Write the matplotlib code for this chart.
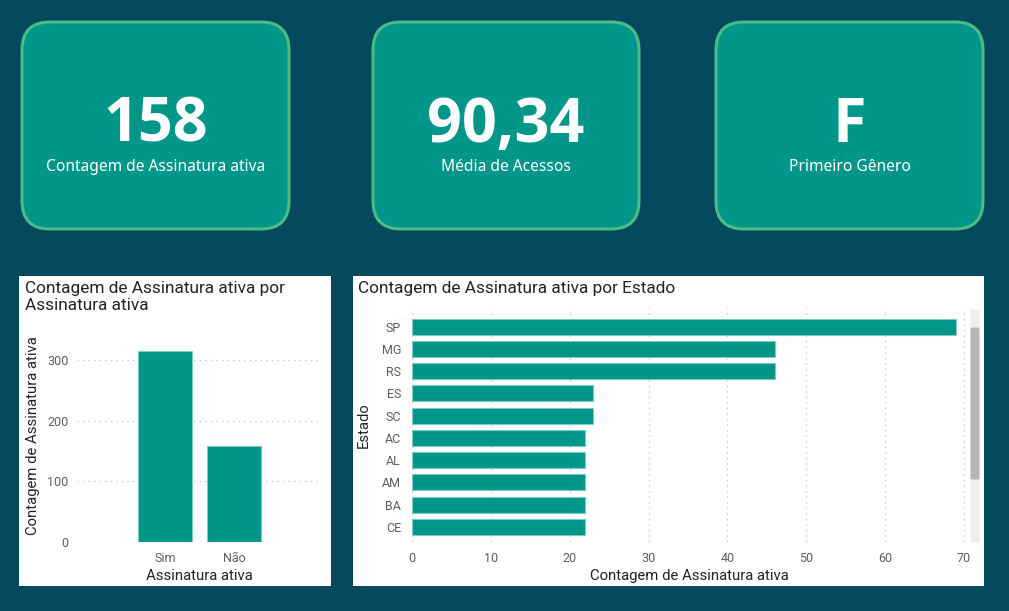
import matplotlib
matplotlib.use("Agg")
import matplotlib.pyplot as plt
from matplotlib.patches import FancyBboxPatch, Rectangle

W, H = 1009, 611
BG = "#05495F"
TEAL = "#00968A"
CARD_EDGE = "#4CBB84"
GRID = "#C8C8C8"
TICK = "#605E5C"
DARK = "#252423"

# ---- data ----
card_values = ["158", "90,34", "F"]
card_labels = ["Contagem de Assinatura ativa", "Média de Acessos", "Primeiro Gênero"]

ativa_cats = ["Sim", "Não"]
ativa_vals = [316, 158]

estados = ["SP", "MG", "RS", "ES", "SC", "AC", "AL", "AM", "BA", "CE"]
estado_vals = [69, 46, 46, 23, 23, 22, 22, 22, 22, 22]

CHART_FONT = ["Roboto", "DejaVu Sans"]
CARD_FONT = ["Noto Sans", "DejaVu Sans"]
NUM_FONT = ["Open Sans", "DejaVu Sans"]

fig = plt.figure(figsize=(W / 100, H / 100), dpi=100)
fig.patch.set_facecolor(BG)

bg = fig.add_axes([0, 0, 1, 1])
bg.set_xlim(0, W)
bg.set_ylim(H, 0)
bg.axis("off")


def px(x0, y0, x1, y1):
    return [x0 / W, 1 - y1 / H, (x1 - x0) / W, (y1 - y0) / H]


# ---- cards ----
card_boxes = [(22, 22, 289, 229), (373, 22, 639, 229), (716, 22, 983, 229)]
for (x0, y0, x1, y1), val, lab in zip(card_boxes, card_values, card_labels):
    r = 28
    p = FancyBboxPatch((x0 + r, y0 + r), (x1 - x0) - 2 * r, (y1 - y0) - 2 * r,
                       boxstyle=f"round,pad={r}", facecolor=TEAL,
                       edgecolor=CARD_EDGE, linewidth=2.2)
    bg.add_patch(p)
    cx = (x0 + x1) / 2
    bg.text(cx, 126, val, ha="center", va="center", color="white",
            fontsize=44, fontweight="bold", family=NUM_FONT)
    bg.text(cx, 167, lab, ha="center", va="center", color="white",
            fontsize=11.2, family=CARD_FONT)

# ---- panels ----
bg.add_patch(Rectangle((19, 276), 312, 310, facecolor="white", edgecolor="none"))
bg.add_patch(Rectangle((353, 276), 631, 310, facecolor="white", edgecolor="none"))

bg.text(25, 288, "Contagem de Assinatura ativa por", ha="left",
        va="center", fontsize=12.4, color=DARK, family=CHART_FONT)
bg.text(25, 306, "Assinatura ativa", ha="left",
        va="center", fontsize=12.4, color=DARK, family=CHART_FONT)
bg.text(358, 288, "Contagem de Assinatura ativa por Estado", ha="left",
        va="center", fontsize=12.4, color=DARK, family=CHART_FONT)

# scrollbar
bg.add_patch(FancyBboxPatch((972, 311), 6, 230, boxstyle="round,pad=1.5",
                            facecolor="#EEEEEE", edgecolor="none"))
bg.add_patch(FancyBboxPatch((972, 329), 6, 149, boxstyle="round,pad=1.5",
                            facecolor="#B5B5B5", edgecolor="none"))

# ---- chart 1: vertical bars ----
ax1 = fig.add_axes(px(77, 330, 322, 542))
ax1.set_facecolor("none")
xs = list(range(len(ativa_cats)))
ax1.bar(xs, ativa_vals, width=0.77, color=TEAL, edgecolor="#7CCBC3",
        linewidth=0.8, zorder=3)
ax1.set_xlim(-1.275, 2.275)
ax1.set_ylim(0, 350)
ax1.set_yticks([0, 100, 200, 300])
ax1.set_xticks(xs)
ax1.set_xticklabels(ativa_cats)
ax1.grid(axis="y", linestyle=(0, (1, 3)), color=GRID, linewidth=1)
for s in ax1.spines.values():
    s.set_visible(False)
ax1.tick_params(length=0, labelsize=9, labelcolor=TICK, pad=6)
ax1.tick_params(axis="x", pad=7)
for t in ax1.get_xticklabels() + ax1.get_yticklabels():
    t.set_family(CHART_FONT)
ax1.set_xlabel("Assinatura ativa", fontsize=10.7, color=DARK,
               family=CHART_FONT, labelpad=3)
ax1.set_ylabel("Contagem de Assinatura ativa", fontsize=10.7, color=DARK,
               family=CHART_FONT, labelpad=5)

# ---- chart 2: horizontal bars ----
ax2 = fig.add_axes(px(412, 308, 966, 542))
ax2.set_facecolor("none")
ys = list(range(len(estados)))
ax2.barh(ys, estado_vals, height=0.72, color=TEAL, edgecolor="#7CCBC3",
         linewidth=0.8, zorder=3)
ax2.set_ylim(9 + 0.675, -0.84)
ax2.set_xlim(0, 70.25)
ax2.set_xticks(range(0, 71, 10))
ax2.set_yticks(ys)
ax2.set_yticklabels(estados)
ax2.grid(axis="x", linestyle=(0, (1, 3)), color=GRID, linewidth=1)
for s in ax2.spines.values():
    s.set_visible(False)
ax2.tick_params(length=0, labelsize=9, labelcolor=TICK, pad=8)
ax2.tick_params(axis="x", pad=7)
for t in ax2.get_xticklabels() + ax2.get_yticklabels():
    t.set_family(CHART_FONT)
ax2.set_xlabel("Contagem de Assinatura ativa", fontsize=10.7, color=DARK,
               family=CHART_FONT, labelpad=3)
ax2.set_ylabel("Estado", fontsize=10.7, color=DARK, family=CHART_FONT,
               labelpad=8)

fig.savefig("out.png", dpi=100, facecolor=BG)
